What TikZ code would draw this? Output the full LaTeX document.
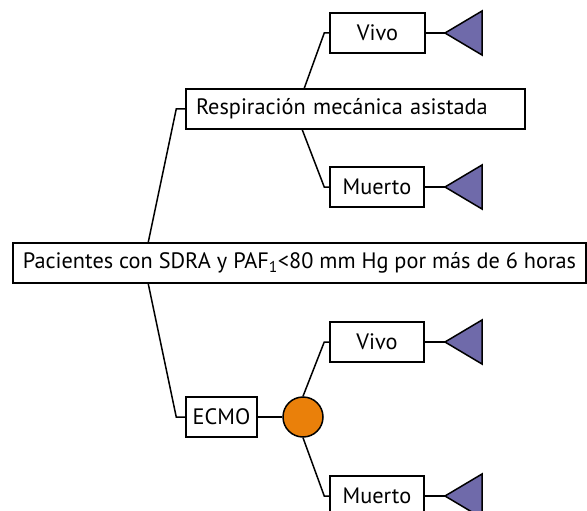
\documentclass[tikz,border=0pt]{standalone}
\usepackage{fontspec}
\setmainfont{PT Sans}
\usetikzlibrary{calc}
\definecolor{termfill}{RGB}{111,106,170}
\definecolor{chancefill}{RGB}{234,128,10}
\tikzset{
  box/.style={draw=black, line width=1.5pt, fill=white, minimum height=40pt, inner sep=0pt, font=\fontsize{22.3}{24}\selectfont},
  conn/.style={draw=black, line width=1.5pt},
  term/.style={draw=black, line width=1.5pt, fill=termfill, line join=miter},
  chance/.style={draw=black, line width=1.5pt, fill=chancefill, circle, minimum size=40pt, inner sep=0pt}
}
\begin{document}
\begin{tikzpicture}[x=1pt,y=-1pt]
\useasboundingbox (0,0) rectangle (587,511);
% nodes
\node[box, minimum width=573pt] (root) at (299.5,263) {Pacientes con SDRA y PAF\textsubscript{1}<80 mm Hg por más de 6 horas};
\node[box, text width=319pt, inner xsep=10pt, align=left] (resp) at (355.5,109) {Respiración mecánica asistada};
\node[box, minimum width=95pt] (vivoA) at (377.5,33) {Vivo};
\node[box, minimum width=94pt] (muertoA) at (377,187) {Muerto};
\node[box, minimum width=71pt] (ecmo) at (221.5,417) {ECMO};
\node[chance] (ch) at (303,417) {};
\node[box, minimum width=94pt] (vivoB) at (377,342) {Vivo};
\node[box, minimum width=94pt] (muertoB) at (377,496) {Muerto};
% terminal points
\coordinate (tA) at (445,33);
\coordinate (tB) at (445,187);
\coordinate (tC) at (445,342);
\coordinate (tD) at (445,496);
\foreach \t in {tA,tB,tC,tD}{
  \draw[term] (\t) -- ++(37,-22) -- ++(0,44) -- cycle;
}
% connectors
\draw[conn] ($(root.north west)+(136,0)$) -- ($(resp.west)+(-9,0)$) -- (resp.west);
\draw[conn] ($(root.south west)+(136,0)$) -- ($(ecmo.west)+(-9,0)$) -- (ecmo.west);
\draw[conn] ($(resp.north west)+(119,0)$) -- ($(vivoA.west)+(-5,0)$) -- (vivoA.west);
\draw[conn] ($(resp.south west)+(117,0)$) -- ($(muertoA.west)+(-5,0)$) -- (muertoA.west);
\draw[conn] (ecmo.east) -- (ch.west);
\draw[conn] (ch.north) -- ($(vivoB.west)+(-5,0)$) -- (vivoB.west);
\draw[conn] (ch.south) -- ($(muertoB.west)+(-5,0)$) -- (muertoB.west);
\draw[conn] (vivoA.east) -- (tA);
\draw[conn] (muertoA.east) -- (tB);
\draw[conn] (vivoB.east) -- (tC);
\draw[conn] (muertoB.east) -- (tD);
\end{tikzpicture}
\end{document}
